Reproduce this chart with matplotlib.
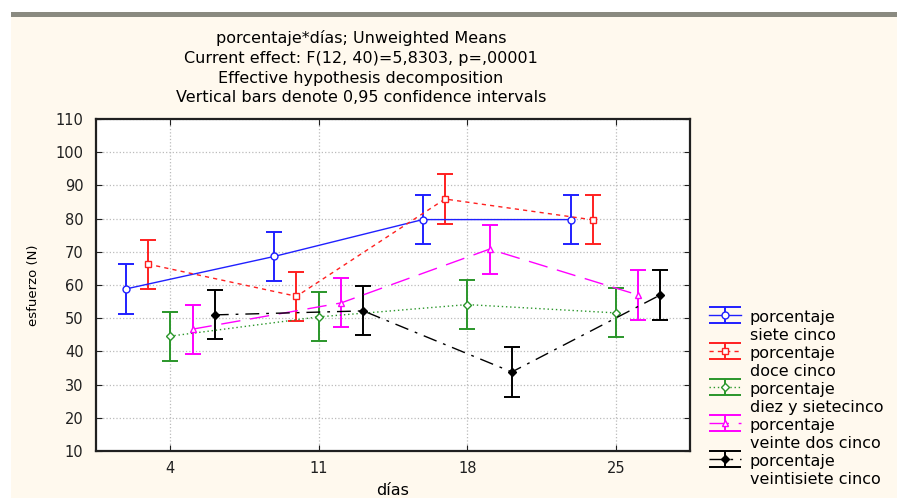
import matplotlib.pyplot as plt
from matplotlib.patches import Rectangle
from matplotlib.lines import Line2D
from matplotlib.legend_handler import HandlerErrorbar

plt.rcParams['font.family'] = ['DejaVu Sans']

# data
dias = ['4', '11', '18', '25']
siete_cinco = [58.8, 68.6, 79.7, 79.7]
doce_cinco = [66.3, 56.6, 85.9, 79.6]
diez_y_siete = [44.6, 50.4, 54.1, 51.6]
veinte_dos = [46.7, 54.6, 70.8, 57.0]
veintisiete = [51.0, 52.2, 33.8, 57.0]
ci_half = [7.4, 7.4, 7.4, 7.4]  # 0.95 confidence half width (pooled)

series_names = ['siete cinco', 'doce cinco', 'diez y sietecinco',
                'veinte dos cinco', 'veintisiete cinco']
series_vals = [siete_cinco, doce_cinco, diez_y_siete, veinte_dos, veintisiete]

title_lines = ['porcentaje*días; Unweighted Means',
               'Current effect: F(12, 40)=5,8303, p=,00001',
               'Effective hypothesis decomposition',
               'Vertical bars denote 0,95 confidence intervals']

# style of each series: color, marker, facecolor, dashes
styles = [
    ('#2020ff', 'o', 'white', None),
    ('#ff2020', 's', 'white', (3, 3)),
    ('#2a962a', 'D', 'white', (1, 2)),
    ('#ff00ff', '^', 'white', (14, 7)),
    ('#000000', 'D', 'black', (10, 5, 2, 5)),
]
offsets = [-0.3, -0.15, 0.0, 0.15, 0.3]


class WideCaps(HandlerErrorbar):
    '''legend errorbar with caps as wide as the handle'''
    def create_artists(self, *args, **kw):
        arts = super().create_artists(*args, **kw)
        for a in arts:
            if isinstance(a, Line2D) and a.get_marker() == '_':
                a.set_markersize(23)
        return arts


fig = plt.figure(figsize=(8.97, 4.98), dpi=100)
fig.patch.set_facecolor('white')
# cream panel with grey band on top, like the statistica window
fig.patches.append(Rectangle((11 / 897, 0), 1, 1 - 17 / 498, transform=fig.transFigure,
                             facecolor='#fff9ee', edgecolor='none', zorder=-2))
fig.patches.append(Rectangle((11 / 897, 1 - 17 / 498), 1, 5 / 498, transform=fig.transFigure,
                             facecolor='#8a8a80', edgecolor='none', zorder=-2))

ax = fig.add_axes([96 / 897, 1 - 451 / 498, 594 / 897, 332 / 498])
ax.set_facecolor('white')

handles = []
labels = []
blank = Line2D([], [], linestyle='none', marker='none')
for name, vals, (col, mk, fc, dash), off in zip(series_names, series_vals, styles, offsets):
    xs = [i + 1 + off for i in range(len(vals))]
    eb = ax.errorbar(xs, vals, yerr=ci_half, color=col, marker=mk, markersize=5 if mk != 'D' else 4.5,
                     markerfacecolor=fc, markeredgecolor=col, linewidth=1.0,
                     elinewidth=1.4, capsize=6, capthick=1.4, zorder=3)
    if dash is not None:
        eb[0].set_dashes(dash)
    handles += [eb, blank]
    labels += ['porcentaje', name]

ax.set_xlim(0.5, 4.5)
ax.set_ylim(10, 110)
ax.set_xticks([1, 2, 3, 4])
ax.set_xticklabels(dias)
ax.set_yticks(range(10, 111, 10))
ax.tick_params(direction='in', length=4, top=True, right=True, labelsize=10.5,
               colors='#202020')
ax.tick_params(axis='y', pad=9)
ax.tick_params(axis='x', pad=7)
ax.grid(True, linestyle=':', color='#bbbbbb', linewidth=0.9)
for s in ax.spines.values():
    s.set_linewidth(1.6)
    s.set_color('#202020')

ax.set_ylabel('esfuerzo (N)', fontsize=9.5, labelpad=11)
ax.set_xlabel('días', fontsize=11.5, labelpad=5)

for i, line in enumerate(title_lines):
    fig.text(361 / 897, 1 - (38 + i * 20) / 498, line, ha='center', va='center', fontsize=11.5)

fig.legend(handles, labels, loc='upper left', bbox_to_anchor=(701 / 897, 1 - 301 / 498),
           frameon=False, fontsize=11.5, handlelength=2.0, handleheight=1.0,
           handletextpad=0.55, labelspacing=0.15, borderpad=0,
           handler_map={type(handles[0]): WideCaps()})

fig.savefig('out.png', dpi=100, facecolor=fig.get_facecolor())
